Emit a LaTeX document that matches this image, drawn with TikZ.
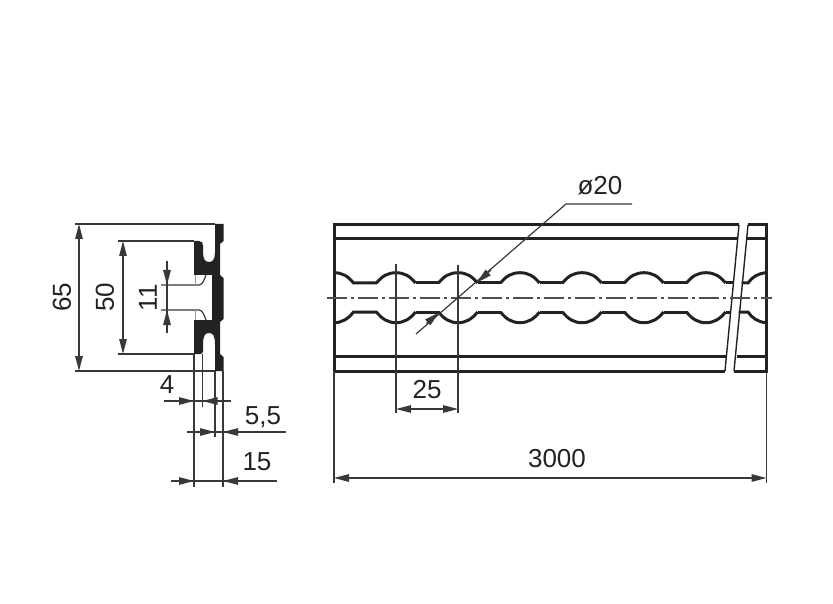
\documentclass[tikz,border=0pt]{standalone}
\usepackage{fontspec}
\setmainfont{Liberation Sans}
\usepackage{xcolor}
\usepackage{tikz}
\usetikzlibrary{positioning,%
  arrows.meta,%
  calc%
}
\definecolor{ink}{HTML}{222222}
\tikzset{
  outline/.style={line width=3pt, draw=ink},
  breakline/.style={line width=1.4pt, draw=ink},
  thinline/.style={line width=1.2pt, draw=ink!90},
  axisline/.style={line width=1.5pt, draw=ink!80, dash pattern=on 20pt off 4pt on 3pt off 4pt},
  dimarrow/.style={thinline, {Triangle[length=15pt,width=7.5pt]}-{Triangle[length=15pt,width=7.5pt]}},
  tiparrow/.style={thinline, -{Triangle[length=15pt,width=7.5pt]}},
  dimtext/.style={font=\fontsize{26}{26}\selectfont, text=ink, inner sep=0pt}
}
\begin{document}
\begin{tikzpicture}[x=1pt,y=-1pt]
  \useasboundingbox (0,0) rectangle (833,604);

  % end view of the rail
  \fill [ink] (215,224) -- (223.5,224) -- (223.5,241) -- (220,244) -- (220,275) -- (223.5,278)
    -- (223.5,319) -- (220,322) -- (220,354) -- (223.5,357) -- (223.5,371) -- (215,371)
    -- (215,344) .. controls (215,336) and (213,333) .. (209,333) .. controls (205,333) and (203,336) .. (203,344)
    -- (203,351) .. controls (203,353) and (202,354) .. (200,354) -- (194,354) -- (194,320) -- (212,320)
    -- (212,275) -- (194,275) -- (194,241) -- (199,241) .. controls (202,241) and (203,243) .. (203,246)
    -- (203,252) .. controls (203,259) and (205,262) .. (209,262) .. controls (213,262) and (215,259) .. (215,252) -- cycle;
  \draw [thinline] (161,285) -- (199,285) .. controls (202,285) and (204,281) .. (206,275);
  \draw [thinline] (161,310) -- (199,310) .. controls (202,310) and (204,314) .. (206,320);
  \draw [thinline, draw=ink!45] (195.5,275) -- (195.5,285) (195.5,310) -- (195.5,320);

  % extension lines, end view
  \draw [thinline] (75,224) -- (215,224);
  \draw [thinline] (75,371) -- (215,371);
  \draw [thinline] (118,241) -- (194,241);
  \draw [thinline] (118,354) -- (194,354);
  \draw [thinline] (194,354) -- (194,487);
  \draw [thinline] (202.5,354) -- (202.5,407);
  \draw [thinline] (215,371) -- (215,437);
  \draw [thinline] (223,371) -- (223,487);

  % dimensions, end view
  \draw [dimarrow] (79,224) -- node (h65) [dimtext, rotate=90, yshift=17pt] {65} (79,371);
  \draw [dimarrow] (123,241) -- node (h50) [dimtext, rotate=90, yshift=18pt] {50} (123,354);
  \draw [thinline] (167,261) -- (167,333);
  \draw [tiparrow] (167,261) -- (167,285);
  \draw [tiparrow] (167,333) -- (167,310);
  \node (h11) [dimtext, rotate=90] at (148,298) {11};
  \draw [thinline] (164,401) -- (231,401);
  \draw [tiparrow] (178,401) -- (194,401);
  \draw [tiparrow] (218,401) -- (202.5,401);
  \node (w4) [dimtext] at (167,385) {4};
  \draw [thinline] (187,432) -- (286,432);
  \draw [tiparrow] (199,432) -- (215,432);
  \draw [tiparrow] (238,432) -- (223,432);
  \node (w55) [dimtext] at (263,417) {5,5};
  \draw [thinline] (171,481) -- (277,481);
  \draw [tiparrow] (178,481) -- (194,481);
  \draw [tiparrow] (238,481) -- (223,481);
  \node (w15) [dimtext] at (257,462) {15};

  % side view of the rail
  \draw [outline] (739,225) -- (334,225) -- (334,371) -- (725,371);
  \draw [outline] (334,239) -- (737.5,239);
  \draw [outline] (334,356.5) -- (727,356.5);
  \draw [outline] (747.5,225) -- (766.5,225) -- (766.5,371) -- (734,371);
  \draw [outline] (746,239) -- (766.5,239);
  \draw [outline] (736.5,356.5) -- (766.5,356.5);
  \draw [breakline] (739,225) -- (725,371);
  \draw [breakline] (748,225) -- (734,371);

  % row of holes
  \draw [outline] (334,272.7) .. controls (342,272.7) and (348,276) .. (353.5,283) -- (377,283);
  \draw [outline] (334,322.7) .. controls (342,322.7) and (348,319) .. (353.5,312) -- (377,312);
  \foreach \c in {396,458,520,582,644,706} {
    \draw [outline] (\c-19.5,283) .. controls (\c-14,276) and (\c-8,272.7) .. (\c,272.7)
      .. controls (\c+8,272.7) and (\c+14,276) .. (\c+19.5,283);
    \draw [outline] (\c-19.5,312) .. controls (\c-14,319) and (\c-8,322.7) .. (\c,322.7)
      .. controls (\c+8,322.7) and (\c+14,319) .. (\c+19.5,312);
  }
  \foreach \c in {396,458,520,582,644} {
    \draw [outline] (\c+19.5,283) -- (\c+42.5,283);
    \draw [outline] (\c+19.5,312) -- (\c+42.5,312);
  }
  \draw [outline] (725.5,283) -- (733.5,283);
  \draw [outline] (725.5,312) -- (731,312);
  \draw [outline] (741.5,283) -- (748,283) .. controls (752,277) and (758,273.5) .. (766,272.7);
  \draw [outline] (738.5,312) -- (748,312) .. controls (752,318) and (758,322) .. (766,322.7);
  \draw [axisline] (327,298) -- (772,298);

  % dimensions, side view
  \draw [thinline] (396,264) -- (396,413);
  \draw [thinline] (458,265) -- (458,413);
  \draw [thinline] (334,371) -- (334,483);
  \draw [thinline] (766.5,371) -- (766.5,483);
  \draw [dimarrow] (396,409) -- (458,409);
  \node (p25) [dimtext] at (427,390) {25};
  \draw [dimarrow] (334,478) -- (766.5,478);
  \node (l3000) [dimtext] at (557,459) {3000};
  \draw [thinline] (416,334) -- (566,204) -- (632,204);
  \draw [tiparrow] (491,270) -- (477,282.5);
  \draw [tiparrow] (426.5,323.5) -- (439,312.5);
  \node (d20) [dimtext] at (600,186) {ø20};
\end{tikzpicture}
\end{document}
